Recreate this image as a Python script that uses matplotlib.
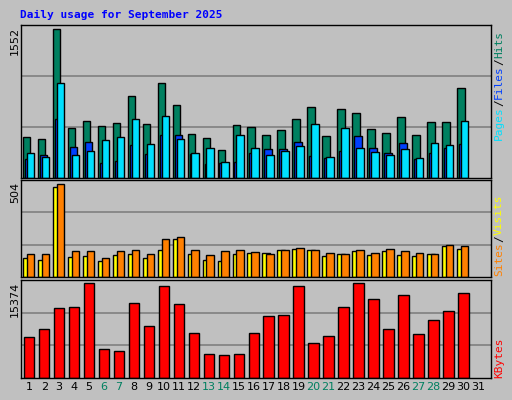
import matplotlib
matplotlib.use("Agg")
import matplotlib.pyplot as plt
import numpy as np

days = list(range(1, 32))
weekend = [6, 7, 13, 14, 20, 21, 27, 28]
hits_max, visits_max, kb_max = 1552, 504, 15374

def conv(tops, base, top_y, vmax):
    return [round((base - t) / (base - top_y) * vmax) for t in tops]

hits = conv([348,354,28,321,300,315,306,225,309,186,252,339,351,387,312,318,342,327,294,258,345,264,276,324,336,288,342,303,303,201], 470, 28, hits_max)
files = conv([414,402,294,378,363,426,420,372,399,342,342,399,429,426,423,396,384,384,363,405,411,390,345,381,396,366,414,396,381,369], 470, 28, hits_max)
pages = conv([396,408,189,402,390,357,348,294,369,285,354,396,381,423,342,381,402,390,375,309,408,321,381,393,402,384,411,366,372,300], 470, 28, hits_max)
visits = conv([237,243,27,234,231,246,228,225,237,213,183,225,243,246,225,222,222,213,210,213,231,225,216,228,216,228,231,225,201,210], 295, 18, visits_max)
sites = conv([225,225,18,216,216,237,216,213,225,180,174,213,228,216,213,219,225,213,207,213,222,225,213,222,210,216,222,225,198,204], 295, 18, visits_max)
kbytes = conv([474,450,390,387,318,507,513,375,441,324,378,462,522,525,522,462,411,408,324,492,471,387,318,363,450,351,465,423,399,345], 592, 318, kb_max)

x = np.arange(1, len(hits) + 1)
BG = "#C0C0C0"
W, H = 512, 400
fig = plt.figure(figsize=(W/100, H/100), dpi=100, facecolor=BG)

def mkax(top, bot):
    ax = fig.add_axes([21/W, 1-bot/H, 470/W, (bot-top)/H], facecolor=BG)
    ax.set_xlim(0.45, 31.85)
    ax.set_xticks([])
    ax.set_yticks([])
    for s in ax.spines.values():
        s.set_color("black"); s.set_linewidth(1)
    return ax

ek = dict(edgecolor="black", linewidth=1, align="edge")

ax1 = mkax(25, 178)
ylim1 = hits_max * 455 / 442
ax1.set_ylim(0, ylim1)
for g in (ylim1/3, 2*ylim1/3):
    ax1.axhline(g, color="#808080", lw=1.2, zorder=0)
ax1.bar(x-0.42, hits, width=0.5, color="#008060", **ek)
ax1.bar(x-0.29, files, width=0.5, color="#0040FF", **ek)
ax1.bar(x-0.16, pages, width=0.5, color="#00E0FF", **ek)

ax2 = mkax(180, 277)
ylim2 = visits_max * 290 / 277
ax2.set_ylim(0, ylim2)
for g in (ylim2/3, 2*ylim2/3):
    ax2.axhline(g, color="#808080", lw=1.2, zorder=0)
ax2.bar(x-0.42, visits, width=0.5, color="#FFFF00", **ek)
ax2.bar(x-0.16, sites, width=0.5, color="#FF8000", **ek)

ax3 = mkax(280, 378)
ylim3 = kb_max * 284 / 274
ax3.set_ylim(0, ylim3)
for g in (ylim3/3, 2*ylim3/3):
    ax3.axhline(g, color="#808080", lw=1.2, zorder=0)
ax3.bar(x-0.35, kbytes, width=0.7, color="#FF0000", **ek)

for d in days:
    ax3.text(d, -0.04, str(d), transform=ax3.get_xaxis_transform(), ha="center", va="top",
             fontsize=8, color="#008060" if d in weekend else "black", family="DejaVu Sans")

fig.text(20/W, 1-15/H, "Daily usage for September 2025", color="#0000FF", fontsize=8,
         family="DejaVu Sans Mono", weight="bold", va="center")
for ytop, lab in ((25, "1552"), (180, "504"), (280, "15374")):
    fig.text(15/W, 1-(ytop+2)/H, lab, rotation=90, ha="center", va="top", fontsize=8)

def side(bottom_px, parts):
    y = bottom_px
    for t, c in parts:
        fig.text(499/W, 1-y/H, t, rotation=90, ha="center", va="bottom", fontsize=8,
                 family="DejaVu Sans Mono", color=c)
        y -= len(t) * 6.8
side(140, [("Pages", "#00E0FF"), ("/", "black"), ("Files", "#0040FF"), ("/", "black"), ("Hits", "#008060")])
side(276, [("Sites", "#FF8000"), ("/", "black"), ("Visits", "#FFFF00")])
side(378, [("KBytes", "#FF0000")])

fig.savefig("out.png", dpi=100, facecolor=BG)
